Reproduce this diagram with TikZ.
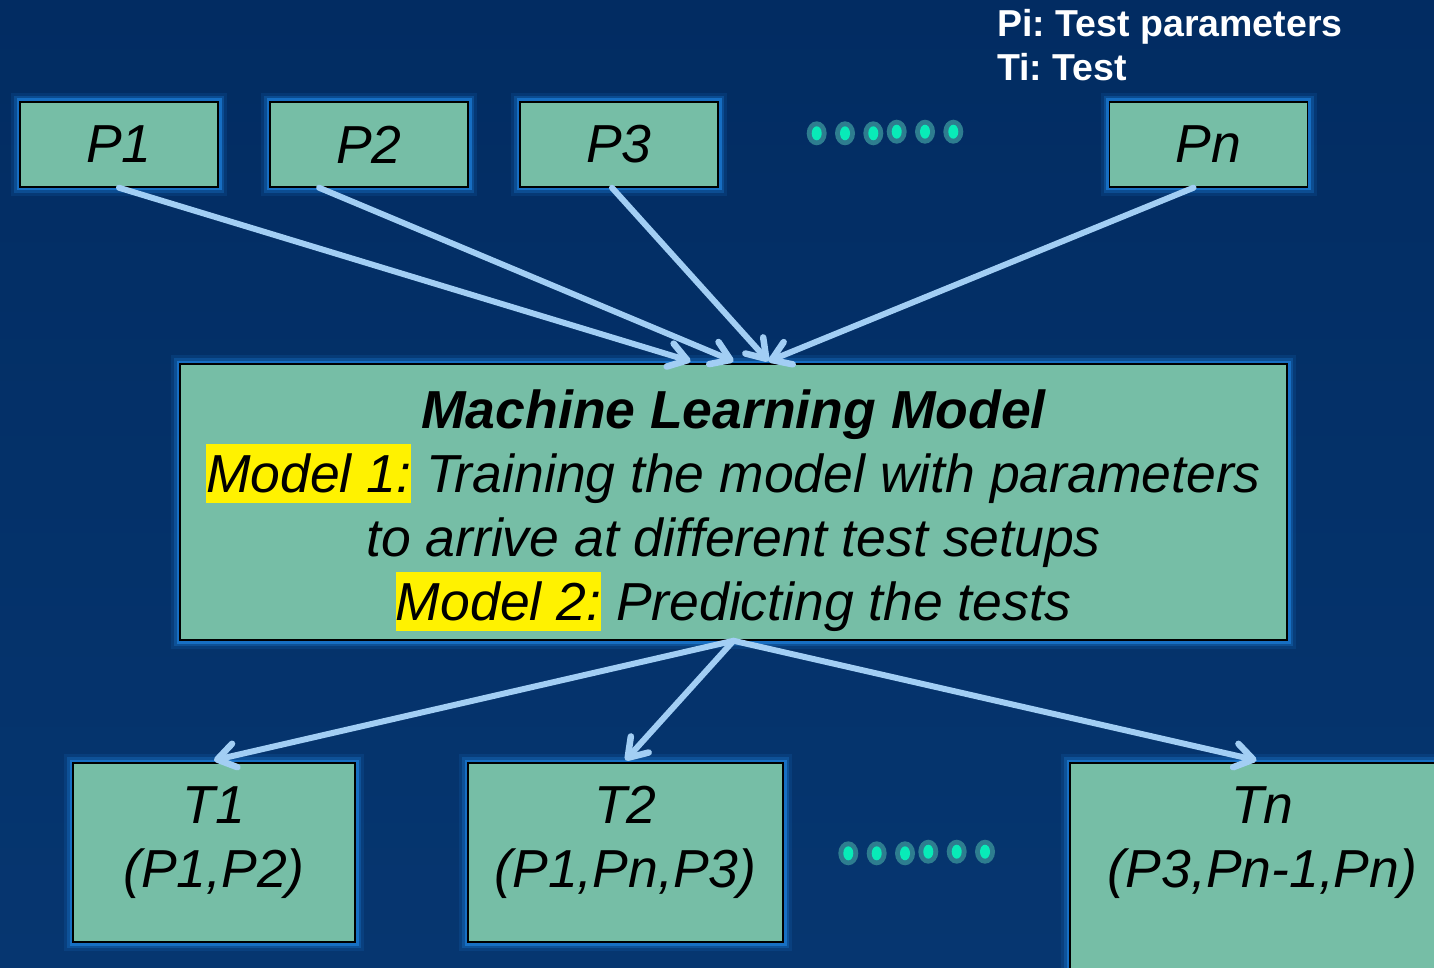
\documentclass[tikz,border=0pt]{standalone}
\usepackage{fontspec}
\setmainfont{Liberation Sans}
\usetikzlibrary{arrows.meta,calc}
\definecolor{bgtop}{RGB}{2,44,98}
\definecolor{bgbot}{RGB}{6,54,112}
\definecolor{mint}{RGB}{118,190,166}
\definecolor{haze}{RGB}{28,125,215}
\definecolor{skyline}{RGB}{162,206,244}
\definecolor{dotring}{RGB}{46,125,143}
\definecolor{dotcore}{RGB}{8,235,184}

\frenchspacing
\setlength{\fboxsep}{0pt}
\newcommand{\hilite}[1]{\colorbox{yellow}{\rule[-10pt]{0pt}{59pt}#1}}

\tikzset{
	box/.style={draw=black, line width=1.5pt, fill=mint,
		preaction={draw=haze, line width=18pt, opacity=0.15},
		preaction={draw=haze, line width=12pt, opacity=0.3},
		preaction={draw=haze, line width=7pt, opacity=0.7}},
	pbox/.style={box, minimum width=198pt, minimum height=85pt, inner sep=0pt,
		font=\fontsize{53.5}{64}\selectfont\itshape},
	tlabel/.style={anchor=north, inner sep=0pt, yshift=-24pt, align=center,
		font=\fontsize{53.5}{64}\selectfont\itshape},
	flow/.style={draw=skyline, line width=6pt, line cap=round,
		-{Straight Barb[length=18pt, width=24pt, line width=6.5pt, round]}},
	legend/.style={anchor=north west, inner sep=0pt, align=left, text=white,
		font=\fontsize{37.5}{44}\selectfont\bfseries}
}

\begin{document}
\begin{tikzpicture}[x=1pt, y=-1pt]

		% background
		\useasboundingbox (0,0) rectangle (1434,968);
		\clip (0,0) rectangle (1434,968);
		\shade[top color=bgtop, bottom color=bgbot] (0,0) rectangle (1434,968);

		% key
		\node[legend] (key) at (997,9) {Pi: Test parameters\\Ti: Test};

		% test parameters
		\node[pbox] (p1) at (119,144.5) {P1};
		\node[pbox] (p2) at (369,144.5) {P2};
		\node[pbox] (p3) at (619,144.5) {P3};
		\node[pbox] (pn) at (1208.5,144.5) {Pn};

		% model
		\node[box, minimum width=1107pt, minimum height=276pt, inner sep=0pt, align=center,
			font=\fontsize{53.5}{64}\selectfont\itshape] (ml) at (733.5,502)
			{\rule{0pt}{57pt}{\bfseries Machine Learning Model}\\
			\hilite{Model 1:} Training the model with parameters\\
			to arrive at different test setups\\
			\hilite{Model 2:} Predicting the tests};

		% tests
		\node[box, minimum width=282pt, minimum height=179pt,
			label={[tlabel]north:T1\\(P1,P2)}] (t1) at (214,852.5) {};
		\node[box, minimum width=315pt, minimum height=179pt,
			label={[tlabel]north:T2\\(P1,Pn,P3)}] (t2) at (625.5,852.5) {};
		\node[box, minimum width=385pt, minimum height=260pt,
			label={[tlabel]north:Tn\\(P3,Pn-1,Pn)}] (tn) at (1262.5,893) {};

		% dotted continuation
		\foreach \dx/\dy in {816.7/133.3, 845/133.3, 873.3/133.3, 896.7/131.7, 925/131.7, 953.3/131.7,
			848.3/853.3, 876.7/853.3, 905/853.3, 928.3/851.7, 956.7/851.7, 985/851.7} {
			\fill[dotring] (\dx,\dy) ellipse [x radius=10pt, y radius=12pt];
			\fill[dotcore] (\dx,\dy) ellipse [x radius=5pt, y radius=7pt];
		}

		% parameters into the model
		\draw[flow] (p1.south) -- ($(ml.north)+(-43,-2)$);
		\draw[flow] ($(p2.south west)!0.25!(p2.south east)$) -- ($(ml.north)+(0,-2)$);
		\draw[flow] ($(p3.south)+(-7,0)$) -- ($(ml.north)+(35,-2)$);
		\draw[flow] ($(pn.south)+(-15,0)$) -- ($(ml.north)+(35,-2)$);

		% model out to the tests
		\draw[flow] (ml.south) -- ($(t1.north)+(0,-2)$);
		\draw[flow] (ml.south) -- ($(t2.north)+(0,-2)$);
		\draw[flow] (ml.south) -- ($(tn.north)+(-6,-2)$);

\end{tikzpicture}
\end{document}
